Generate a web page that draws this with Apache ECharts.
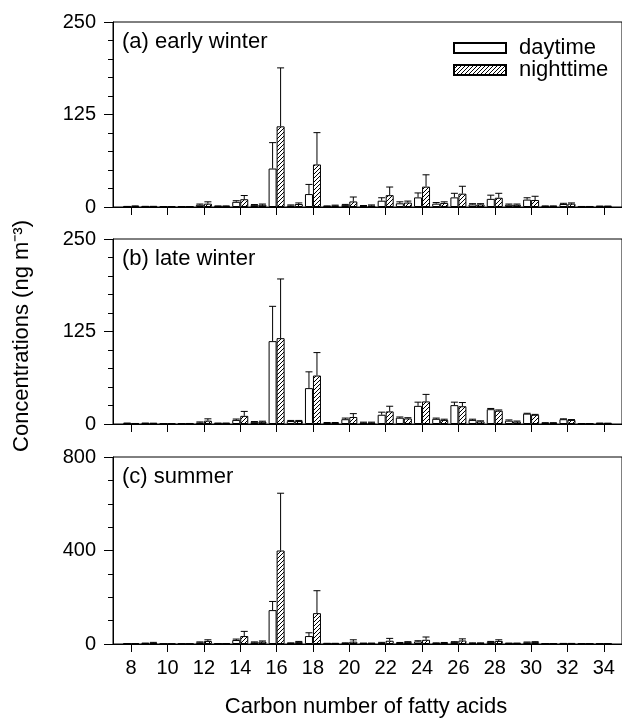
<!DOCTYPE html>
<html>
<head>
<meta charset="utf-8">
<script src="https://cdn.jsdelivr.net/npm/echarts@6/dist/echarts.min.js"></script>
<style>
  html, body { margin: 0; padding: 0; background: #fff; }
  #main { width: 622px; height: 722px; }
</style>
</head>
<body>
<div id="main"></div>
<script>
// carbon numbers 8..34
const carbons = [8, 9, 10, 11, 12, 13, 14, 15, 16, 17, 18, 19, 20, 21, 22, 23, 24, 25, 26, 27, 28, 29, 30, 31, 32, 33, 34];
// axis runs from 7 to 35 so the end categories stay empty
const xCats = ['7'].concat(carbons.map(String), ['35']);

// (a) early winter
const earlyDay      = [0.5, 0.6, 0.4, 0.4, 3, 1, 7, 2.5, 52, 2, 17.5, 1, 2.5, 1.5, 8.5, 5, 13, 4.5, 13, 3.5, 11, 3, 10, 1, 4, 0.5, 1];
const earlyDayErr   = [0.3, 0.3, 0.2, 0.2, 1, 0.5, 1.5, 0.8, 35, 0.8, 13, 0.5, 1, 0.5, 4, 2, 6, 1.5, 5.5, 1, 5, 1, 2.5, 0.5, 1, 0.2, 0.3];
const earlyNight    = [1.2, 0.6, 0.4, 0.4, 4.5, 1, 10.5, 3, 109, 4, 57.5, 2, 7.5, 2, 16, 6, 27.5, 5.5, 18, 3.5, 12.5, 3, 9.5, 1, 4.5, 0.5, 1];
const earlyNightErr = [0.3, 0.3, 0.2, 0.2, 2.5, 0.5, 5, 1, 79, 1.5, 43, 0.5, 6, 0.8, 11, 2, 16, 1.5, 10, 1, 6, 1, 5, 0.5, 1, 0.2, 0.3];

// (b) late winter
const lateDay      = [1, 1, 0.3, 0.3, 2, 1, 5.5, 2.5, 112, 4, 48.5, 1.5, 6.5, 2, 12.5, 8.5, 24.5, 7, 25.5, 5.5, 20, 4.5, 14, 1.5, 6.5, 0.5, 1];
const lateDayErr   = [0.3, 0.3, 0.1, 0.1, 0.8, 0.3, 1.2, 0.8, 47, 0.8, 22, 0.5, 1.5, 0.5, 3.5, 1, 5, 1, 4, 1, 1, 1, 0.5, 0.3, 0.5, 0.1, 0.3];
const lateNight    = [0.5, 0.8, 0.3, 0.5, 4.5, 1, 11, 3, 116, 4, 65.5, 1.5, 9.5, 2, 17, 7.5, 30.5, 5.5, 24, 3.5, 18, 3.2, 12.5, 1.5, 5.5, 0.5, 0.8];
const lateNightErr = [0.2, 0.3, 0.1, 0.2, 2.5, 0.3, 6, 0.8, 80, 0.8, 31, 0.5, 4.5, 0.5, 7, 1, 9.5, 1, 5, 0.8, 1, 0.8, 0.5, 0.3, 0.5, 0.1, 0.3];

// (c) summer
const summerDay      = [1, 3, 0.5, 0.5, 7, 1, 17, 7, 145, 4, 34, 2, 4, 3, 5, 5, 11, 4, 8, 4, 9, 3, 7, 1, 2, 1, 1];
const summerDayErr   = [0.5, 1, 0.3, 0.3, 2, 0.5, 4, 2, 37, 1, 14, 1, 1, 1, 2, 1.5, 3, 1, 2, 1, 2, 1, 1.5, 0.5, 0.5, 0.3, 0.3];
const summerNight    = [1, 5, 0.5, 0.5, 13, 1, 34, 10, 400, 8, 132, 2, 10, 3, 14, 8, 18, 5, 15, 4, 13, 3, 8, 1, 2, 1, 1];
const summerNightErr = [0.5, 2, 0.3, 0.3, 5, 0.5, 20, 3, 245, 3, 96, 1, 8, 1, 10, 2, 12, 1.5, 7, 1, 5, 1, 2, 0.5, 0.5, 0.3, 0.3];

const yMax = [250, 250, 800];
const yStep = [125, 125, 400];
const yMinorSplit = [5, 5, 4];
const panelNames = ['(a) early winter', '(b) late winter', '(c) summer'];

const FONT = 'Liberation Sans, Arial, sans-serif';

// diagonal hatch for the nighttime bars
function hatch() {
    var c = document.createElement('canvas');
    c.width = 4; c.height = 4;
    var g = c.getContext('2d');
    g.fillStyle = '#fff';
    g.fillRect(0, 0, 4, 4);
    g.strokeStyle = '#000';
    g.lineWidth = 1;
    g.beginPath();
    g.moveTo(0, 4); g.lineTo(4, 0);
    g.moveTo(-1, 1); g.lineTo(1, -1);
    g.moveTo(3, 5); g.lineTo(5, 3);
    g.stroke();
    return c;
}
const hatchFill = { image: hatch(), repeat: 'repeat' };

const pad = arr => [null].concat(arr, [null]);
const evenOnly = (i, v) => (+v) % 2 === 0;

// upward error bar, shifted onto its own bar
function errorBar(dx) {
    return function (params, api) {
        var v = api.value(1), e = api.value(2);
        if (v == null || e == null) return;
        var p0 = api.coord([api.value(0), v]);
        var p1 = api.coord([api.value(0), v + e]);
        var x = p0[0] + dx;
        var st = { stroke: '#000', lineWidth: 1 };
        return {
            type: 'group',
            children: [
                { type: 'line', shape: { x1: x, y1: p0[1], x2: x, y2: p1[1] }, style: st },
                { type: 'line', shape: { x1: x - 3.5, y1: p1[1], x2: x + 3.5, y2: p1[1] }, style: st }
            ]
        };
    };
}

const panels = [
    [earlyDay, earlyDayErr, earlyNight, earlyNightErr],
    [lateDay, lateDayErr, lateNight, lateNightErr],
    [summerDay, summerDayErr, summerNight, summerNightErr]
];
const gridTop = [22, 239, 457];
const gridH = [185, 185, 187];

var grids = [], xAxes = [], yAxes = [], series = [], graphics = [];

panels.forEach((p, i) => {
    grids.push({
        left: 113, top: gridTop[i], width: 515, height: gridH[i],
        show: true, borderColor: '#000', borderWidth: 1, backgroundColor: 'transparent'
    });
    xAxes.push({
        type: 'category', gridIndex: i, data: xCats, boundaryGap: false,
        axisLine: { lineStyle: { color: '#000', width: 1 } },
        axisTick: { show: true, interval: evenOnly, length: 8, lineStyle: { color: '#000' } },
        axisLabel: { show: i === 2, interval: evenOnly, color: '#000', fontSize: 20, fontFamily: FONT, margin: 14 },
        splitLine: { show: false }
    });
    yAxes.push({
        type: 'value', gridIndex: i, min: 0, max: yMax[i], interval: yStep[i],
        axisLine: { show: true, lineStyle: { color: '#000', width: 1 } },
        axisTick: { show: true, length: 9, lineStyle: { color: '#000' } },
        minorTick: { show: true, splitNumber: yMinorSplit[i], length: 5, lineStyle: { color: '#000' } },
        axisLabel: { color: '#000', fontSize: 20, fontFamily: FONT, margin: 17 },
        splitLine: { show: false }
    });
    series.push({
        name: 'daytime', type: 'bar', xAxisIndex: i, yAxisIndex: i,
        data: pad(p[0]), barWidth: 8, barGap: '0%',
        itemStyle: { color: '#fff', borderColor: '#000', borderWidth: 1 }
    });
    series.push({
        name: 'nighttime', type: 'bar', xAxisIndex: i, yAxisIndex: i,
        data: pad(p[2]), barWidth: 8, barGap: '0%',
        itemStyle: { color: hatchFill, borderColor: '#000', borderWidth: 1 }
    });
    series.push({
        type: 'custom', xAxisIndex: i, yAxisIndex: i, z: 5,
        renderItem: errorBar(-4),
        data: carbons.map((c, k) => [k + 1, p[0][k], p[1][k]])
    });
    series.push({
        type: 'custom', xAxisIndex: i, yAxisIndex: i, z: 5,
        renderItem: errorBar(4),
        data: carbons.map((c, k) => [k + 1, p[2][k], p[3][k]])
    });
    graphics.push({
        type: 'text', left: 122, top: gridTop[i] + 9,
        style: { text: panelNames[i], fill: '#000', font: '22px ' + FONT }
    });
});

graphics.push({
    type: 'text', x: 22, y: 336, rotation: Math.PI / 2,
    style: { text: 'Concentrations (ng m\u207B\u00B3)', fill: '#000', font: '22px ' + FONT, align: 'center', verticalAlign: 'middle' }
});
graphics.push({
    type: 'text', x: 366, y: 707,
    style: { text: 'Carbon number of fatty acids', fill: '#000', font: '22px ' + FONT, align: 'center', verticalAlign: 'middle' }
});

var myChart = echarts.init(document.getElementById('main'));
myChart.setOption({
    animation: false,
    backgroundColor: '#fff',
    legend: {
        data: ['daytime', 'nighttime'], orient: 'vertical',
        left: 453, top: 37, padding: 0, itemWidth: 52, itemHeight: 10, itemGap: 0,
        icon: 'rect',
        textStyle: { color: '#000', fontSize: 22, fontFamily: FONT, padding: [0, 0, 0, 8] }
    },
    grid: grids,
    xAxis: xAxes,
    yAxis: yAxes,
    series: series,
    graphic: graphics
});
</script>
</body>
</html>
